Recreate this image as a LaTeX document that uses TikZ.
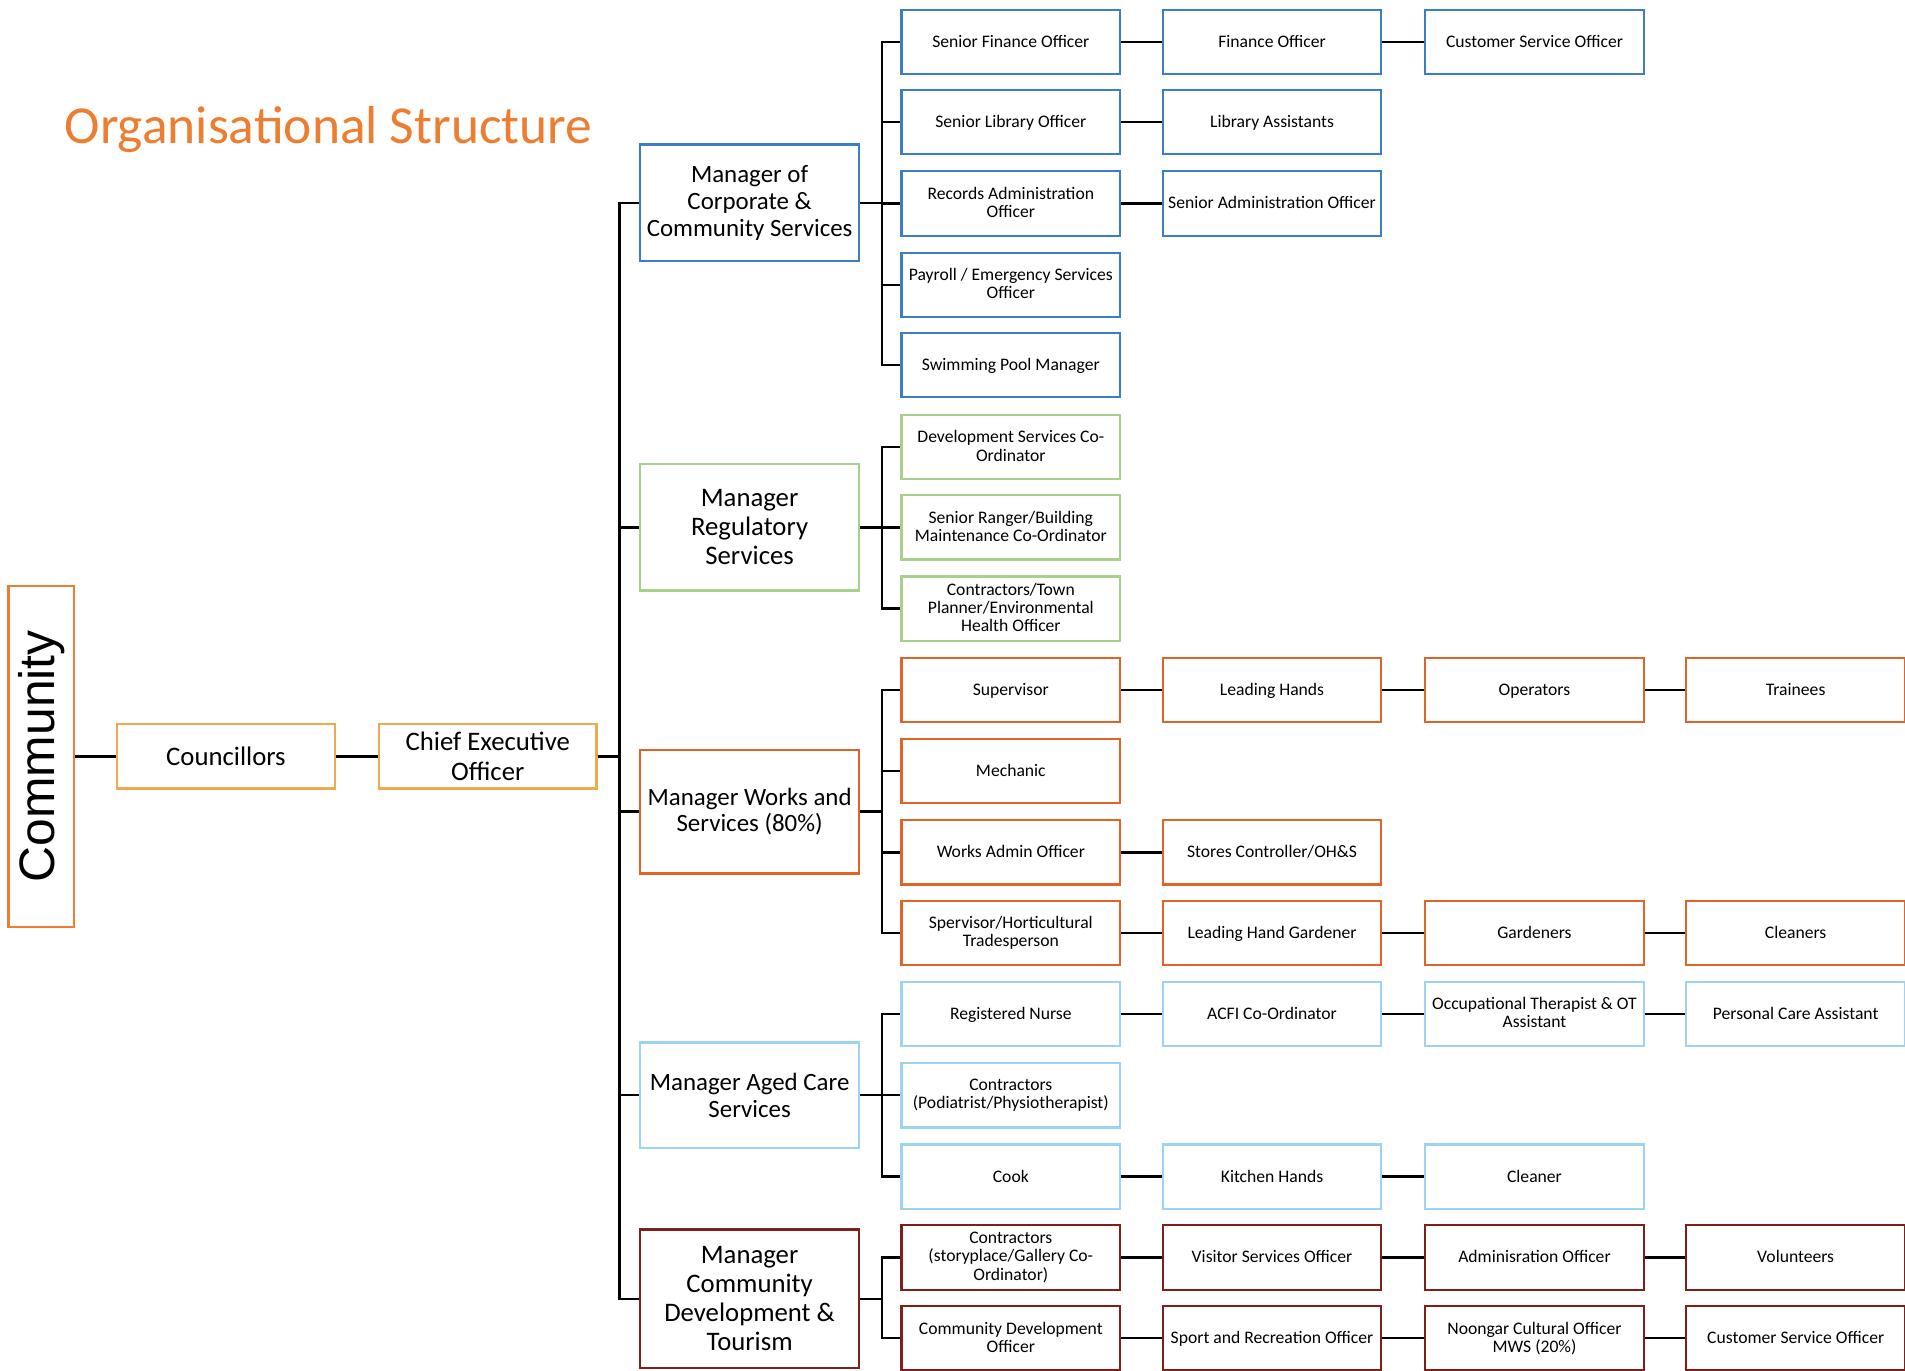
\documentclass[tikz,border=0pt]{standalone}
\usepackage{fontspec}
\setmainfont{Carlito}
\newfontfamily\commfont{Liberation Sans}
\definecolor{titleor}{HTML}{ED7D31}
\definecolor{gold}{HTML}{EDAA50}
\definecolor{corpblue}{HTML}{3D7DC4}
\definecolor{reggreen}{HTML}{A9CF8C}
\definecolor{worksor}{HTML}{E06428}
\definecolor{agedblue}{HTML}{9DD3F2}
\definecolor{devred}{HTML}{7F1F1A}
\newcommand{\mystrut}{\rule[-2pt]{0pt}{13pt}}
\tikzset{
  box/.style={draw, line width=1.8pt, minimum width=180pt, minimum height=53pt, inner sep=1pt, align=center, font=\fontsize{14.5}{15}\selectfont, execute at begin node=\mystrut, execute at end node=\mystrut},
  mgr/.style={draw, line width=1.8pt, minimum width=180pt, inner sep=1pt, align=center, font=\fontsize{20.5}{22}\selectfont},
  mgrbig/.style={mgr, font=\fontsize{22}{24}\selectfont},
  top/.style={draw=gold, line width=1.8pt, minimum width=180pt, minimum height=53pt, inner sep=1pt, align=center, font=\fontsize{22}{24}\selectfont},
  link/.style={line width=2pt, black},
  g1/.style={box, draw=corpblue},
  g2/.style={box, draw=reggreen},
  g3/.style={box, draw=worksor},
  g4/.style={box, draw=agedblue},
  g5/.style={box, draw=devred},
}
\begin{document}
\begin{tikzpicture}[x=1pt,y=-1pt]
\useasboundingbox (0,0) rectangle (1568,1128);

\node[anchor=base west, text=titleor, font=\fontsize{44}{46}\selectfont, inner sep=0] (title) at (53,118) {Organisational Structure};

\node[draw=titleor, line width=1.8pt, rotate=90, minimum width=281pt, minimum height=54pt, inner sep=0, font=\commfont\fontsize{41}{41}\selectfont] (comm) at (34,622.5) {Community};
\node[top] (coun) at (186,622.5) {Councillors};
\node[top, minimum width=179pt] (ceo) at (401.5,622.5) {Chief Executive\\Officer};

% managers
\node[mgr, draw=corpblue, minimum height=96pt] (m1) at (617,167) {Manager of\\Corporate \&\\Community Services};
\node[mgrbig, draw=reggreen, minimum height=104pt] (m2) at (617,434) {Manager\\Regulatory\\Services};
\node[mgr, draw=worksor, minimum height=102pt] (m3) at (617,668) {Manager Works and\\Services (80\%)};
\node[mgr, draw=agedblue, minimum height=87pt] (m4) at (617,901.5) {Manager Aged Care\\Services};
\node[mgrbig, draw=devred, minimum height=114pt] (m5) at (617,1069) {Manager\\Community\\Development \&\\Tourism};

% group 1
\node[g1] (a11) at (832,34.5) {Senior Finance Officer};
\node[g1] (a12) at (1047,34.5) {Finance Officer};
\node[g1] (a13) at (1263,34.5) {Customer Service Officer};
\node[g1] (a21) at (832,100.5) {Senior Library Officer};
\node[g1] (a22) at (1047,100.5) {Library Assistants};
\node[g1] (a31) at (832,167.5) {Records Administration\\Officer};
\node[g1] (a32) at (1047,167.5) {Senior Administration Officer};
\node[g1] (a41) at (832,234.5) {Payroll / Emergency Services\\Officer};
\node[g1] (a51) at (832,300.5) {Swimming Pool Manager};

% group 2
\node[g2] (b11) at (832,368) {Development Services Co-\\Ordinator};
\node[g2] (b21) at (832,434) {Senior Ranger/Building\\Maintenance Co-Ordinator};
\node[g2] (b31) at (832,501) {Contractors/Town\\Planner/Environmental\\Health Officer};

% group 3
\node[g3] (c11) at (832,568) {Supervisor};
\node[g3] (c12) at (1047,568) {Leading Hands};
\node[g3] (c13) at (1263,568) {Operators};
\node[g3] (c14) at (1478,568) {Trainees};
\node[g3] (c21) at (832,634.5) {Mechanic};
\node[g3] (c31) at (832,701.5) {Works Admin Officer};
\node[g3] (c32) at (1047,701.5) {Stores Controller/OH\&S};
\node[g3] (c41) at (832,768) {Spervisor/Horticultural\\Tradesperson};
\node[g3] (c42) at (1047,768) {Leading Hand Gardener};
\node[g3] (c43) at (1263,768) {Gardeners};
\node[g3] (c44) at (1478,768) {Cleaners};

% group 4
\node[g4] (d11) at (832,834.5) {Registered Nurse};
\node[g4] (d12) at (1047,834.5) {ACFI Co-Ordinator};
\node[g4] (d13) at (1263,834.5) {Occupational Therapist \& OT\\Assistant};
\node[g4] (d14) at (1478,834.5) {Personal Care Assistant};
\node[g4] (d21) at (832,901.5) {Contractors\\(Podiatrist/Physiotherapist)};
\node[g4] (d31) at (832,968.5) {Cook};
\node[g4] (d32) at (1047,968.5) {Kitchen Hands};
\node[g4] (d33) at (1263,968.5) {Cleaner};

% group 5
\node[g5] (e11) at (832,1035) {Contractors\\(storyplace/Gallery Co-\\Ordinator)};
\node[g5] (e12) at (1047,1035) {Visitor Services Officer};
\node[g5] (e13) at (1263,1035) {Adminisration Officer};
\node[g5] (e14) at (1478,1035) {Volunteers};
\node[g5] (e21) at (832,1101.5) {Community Development\\Officer};
\node[g5] (e22) at (1047,1101.5) {Sport and Recreation Officer};
\node[g5] (e23) at (1263,1101.5) {Noongar Cultural Officer\\MWS (20\%)};
\node[g5] (e24) at (1478,1101.5) {Customer Service Officer};

% top connectors
\draw[link] (comm.south) -- (coun.west);
\draw[link] (coun.east) -- (ceo.west);
\foreach \m in {m1,m2,m3,m4,m5}
  \draw[link] (ceo.east) -- ([xshift=18pt]ceo.east) |- (\m.west);

% sub trunks
\foreach \c in {a11,a21,a31,a41,a51}
  \draw[link] (m1.east) -- ([xshift=18pt]m1.east) |- (\c.west);
\foreach \c in {b11,b21,b31}
  \draw[link] (m2.east) -- ([xshift=18pt]m2.east) |- (\c.west);
\foreach \c in {c11,c21,c31,c41}
  \draw[link] (m3.east) -- ([xshift=18pt]m3.east) |- (\c.west);
\foreach \c in {d11,d21,d31}
  \draw[link] (m4.east) -- ([xshift=18pt]m4.east) |- (\c.west);
\foreach \c in {e11,e21}
  \draw[link] (m5.east) -- ([xshift=18pt]m5.east) |- (\c.west);

% row chains
\draw[link] (a11) -- (a12); \draw[link] (a12) -- (a13);
\draw[link] (a21) -- (a22);
\draw[link] (a31) -- (a32);
\draw[link] (c11) -- (c12); \draw[link] (c12) -- (c13); \draw[link] (c13) -- (c14);
\draw[link] (c31) -- (c32);
\draw[link] (c41) -- (c42); \draw[link] (c42) -- (c43); \draw[link] (c43) -- (c44);
\draw[link] (d11) -- (d12); \draw[link] (d12) -- (d13); \draw[link] (d13) -- (d14);
\draw[link] (d31) -- (d32); \draw[link] (d32) -- (d33);
\draw[link] (e11) -- (e12); \draw[link] (e12) -- (e13); \draw[link] (e13) -- (e14);
\draw[link] (e21) -- (e22); \draw[link] (e22) -- (e23); \draw[link] (e23) -- (e24);
\end{tikzpicture}
\end{document}
